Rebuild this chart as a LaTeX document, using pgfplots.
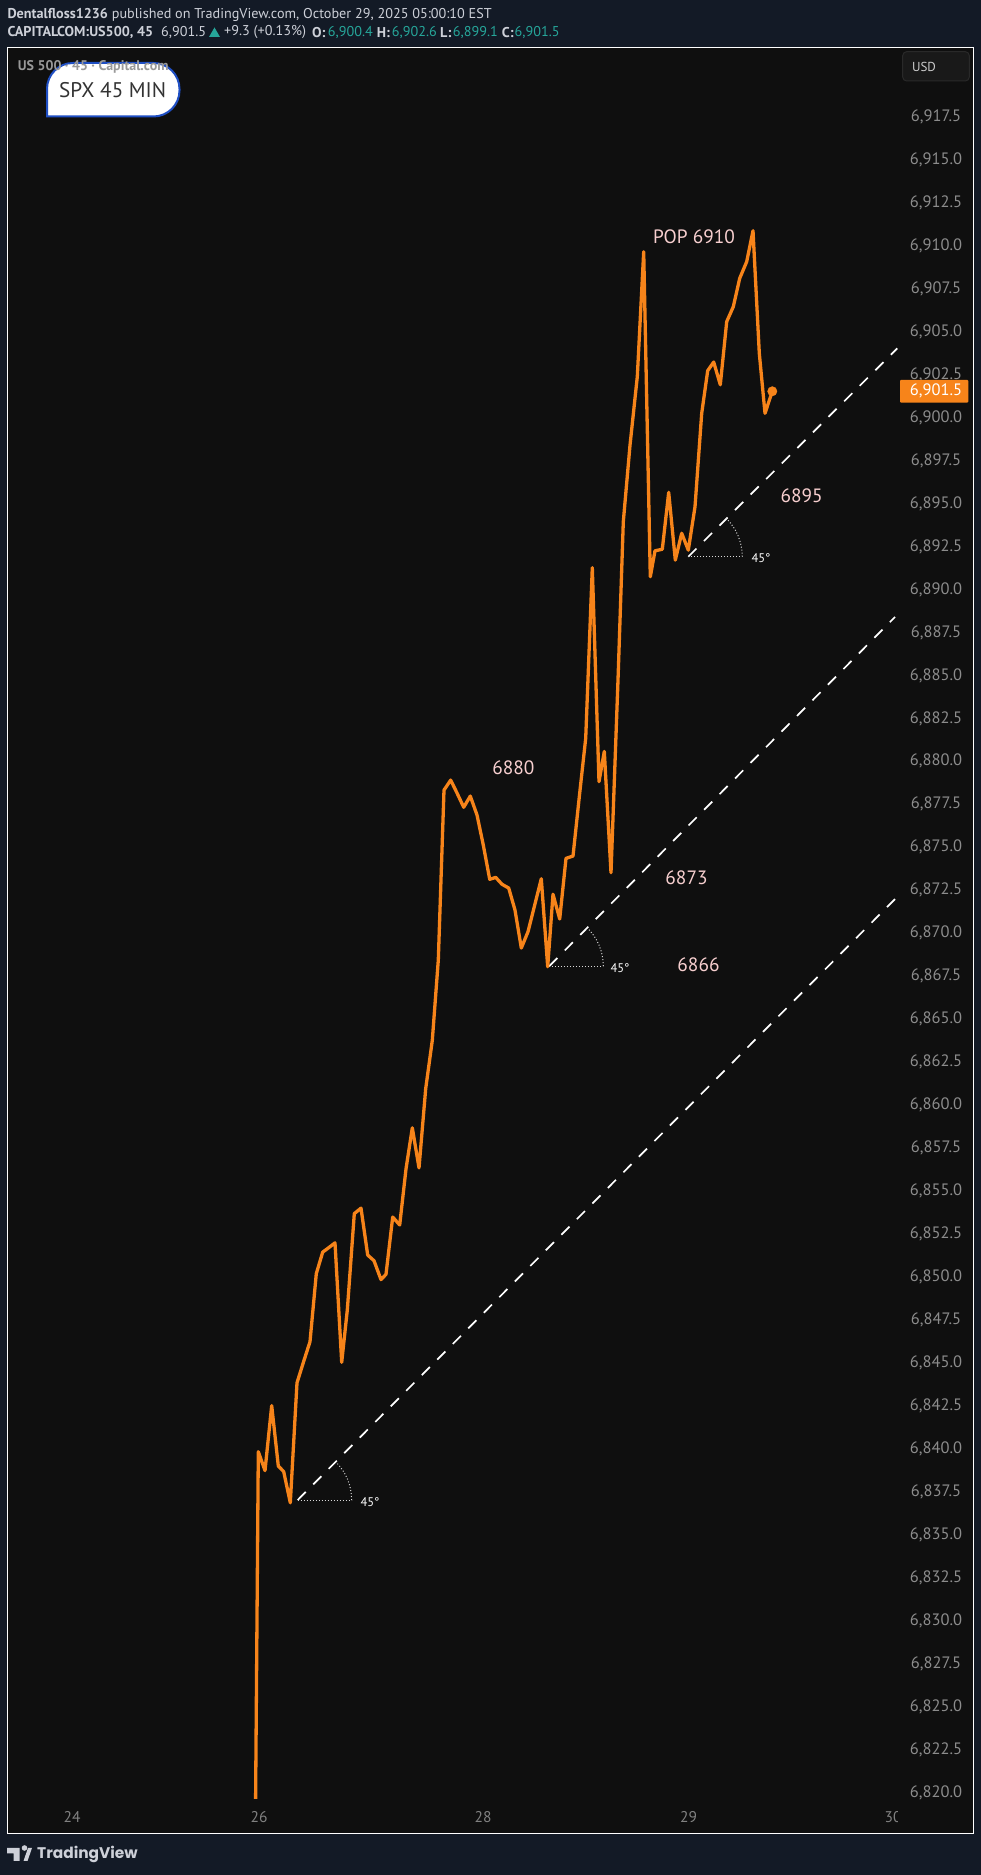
\documentclass[border=0pt]{standalone}
\usepackage{fontspec}
\setmainfont{PT Sans}
\newfontfamily\poppins{Poppins}
\usepackage{pgfplots}
\usepackage{pgfplotstable}
\pgfplotsset{compat=1.18}
\definecolor{pagebg}{HTML}{131A26}
\definecolor{panel}{HTML}{0F0F0F}
\definecolor{line}{HTML}{F7841A}
\definecolor{pinklab}{HTML}{F7CFCF}
\definecolor{ticktxt}{HTML}{8C8C8C}
\definecolor{headtxt}{HTML}{CDD0D8}
\definecolor{teal}{HTML}{26A69A}
\definecolor{boxblue}{HTML}{1F4FC4}
\pgfplotstableread{
x y
255.6 6819.55
258.3 6839.75
265.0 6838.65
271.7 6842.43
278.3 6838.92
283.7 6838.59
290.3 6836.78
297.0 6843.76
303.5 6844.97
310.0 6846.15
316.3 6850.11
322.7 6851.36
329.0 6851.63
335.0 6851.90
341.7 6844.95
347.3 6847.99
354.3 6853.60
361.0 6853.92
367.7 6851.19
374.0 6850.86
381.0 6849.76
386.0 6850.07
392.7 6853.40
399.7 6852.94
406.0 6856.20
412.3 6858.59
419.0 6856.26
425.7 6860.87
432.3 6863.68
438.3 6868.35
444.0 6878.24
450.7 6878.82
457.0 6878.07
463.7 6877.24
470.3 6877.89
477.0 6876.79
483.3 6875.04
489.7 6873.05
495.7 6873.16
502.0 6872.76
508.7 6872.54
515.0 6871.26
521.3 6869.05
528.0 6870.00
534.7 6871.55
541.3 6873.08
547.7 6867.96
553.0 6872.18
559.7 6870.74
566.0 6874.27
573.0 6874.40
579.3 6877.85
585.7 6881.25
592.3 6891.18
599.0 6878.73
604.3 6880.49
611.0 6873.43
618.0 6884.64
623.3 6893.85
630.0 6898.30
637.3 6902.29
643.7 6909.56
650.3 6890.65
655.0 6892.16
662.3 6892.25
668.7 6895.56
675.3 6891.62
681.7 6893.18
688.3 6892.20
695.0 6894.72
701.7 6900.16
707.7 6902.64
713.7 6903.14
720.3 6901.82
726.7 6905.49
733.3 6906.36
739.7 6908.01
746.7 6908.98
753.0 6910.78
759.3 6903.65
765.0 6900.16
772.3 6901.44
}\series
\pgfplotstableread{
dx dy
54 0
53.5 0.41
52.2 0.81
49.9 1.20
46.8 1.57
42.8 1.91
38.2 2.22
}\arcrim
\begin{document}
\begin{tikzpicture}[x=1pt,y=1pt]
\fill[pagebg] (0,0) rectangle (981,1875);
\begin{axis}[
  at={(7.5pt,41pt)}, anchor=south west,
  scale only axis, width=965.5pt, height=1786.5pt,
  xmin=7.5, xmax=973, ymin=6817.51, ymax=6921.44,
  axis background/.style={fill=panel},
  axis line style={white,line width=1pt},
  major tick length=0pt,
  xtick={72,259,483,688.5,893},
  xticklabels={24,26,28,29,30},
  ytick={6820,6822.5,...,6917.5},
  yticklabel pos=right,
  /pgf/number format/.cd, fixed, fixed zerofill, precision=1, 1000 sep={,}, assume math mode=true,
  /pgfplots/.cd,
  y tick label style={anchor=center,xshift=-37pt,yshift=-1.5pt,font=\fontsize{16.5}{17}\selectfont,text=ticktxt},
  x tick label style={anchor=center,yshift=17pt,font=\fontsize{15.5}{16}\selectfont,text=ticktxt!110!white},
]
% dashed support lines
\addplot[white,line width=1.7pt,dash pattern=on 11.5pt off 10.5pt] coordinates {(297.7,6836.94) (895,6871.90)};
\addplot[white,line width=1.7pt,dash pattern=on 11.5pt off 10.5pt] coordinates {(549.3,6868.0) (895,6888.31)};
\addplot[white,line width=1.7pt,dash pattern=on 11.5pt off 10.5pt] coordinates {(688.3,6891.82) (897.3,6903.94)};
% 45 degree markers
\addplot[white!85!black,line width=1pt,dotted] table[x expr=\thisrow{dx}+297.7,y expr=\thisrow{dy}+6836.94] {\arcrim};
\addplot[white!85!black,line width=1pt,dotted] coordinates {(297.7,6836.94) (351.7,6836.94)};
\addplot[white!85!black,line width=1pt,dotted] table[x expr=\thisrow{dx}+549.3,y expr=\thisrow{dy}+6868.0] {\arcrim};
\addplot[white!85!black,line width=1pt,dotted] coordinates {(549.3,6868.0) (603.3,6868.0)};
\addplot[white!85!black,line width=1pt,dotted] table[x expr=\thisrow{dx}+688.3,y expr=\thisrow{dy}+6891.82] {\arcrim};
\addplot[white!85!black,line width=1pt,dotted] coordinates {(688.3,6891.82) (742.3,6891.82)};
% price line
\addplot[line,line width=3.3pt,line join=round] table[x=x,y=y] {\series};
\addplot[line,only marks,mark=*,mark size=4.7pt,mark options={fill=line,draw=line}] coordinates {(772.3,6901.44)};
\end{axis}
\begin{scope}[yshift=1875pt,y=-1pt,x=1pt]
% crop of the last date label
\fill[panel] (897.5,1805) rectangle (908,1829);
% header
\node[anchor=west,inner sep=0,text=headtxt,font=\fontsize{14.2}{15}\selectfont] at (7.3,14.7) {\textbf{Dentalfloss1236} published on TradingView.com, October 29, 2025 05:00:10 EST};
\begin{scope}[every node/.style={anchor=west,inner sep=0,font=\fontsize{14.2}{15}\selectfont}]
\node[text=headtxt] at (7.3,32.3) {\textbf{CAPITALCOM:US500, 45}};
\node[text=headtxt] at (161,32.3) {6,901.5};
\fill[teal] (209,37) -- (220,37) -- (214.5,27.5) -- cycle;
\node[text=headtxt] at (224,32.3) {+9.3 (+0.13\%)};
\node[text=headtxt] at (312,32.3) {\textbf{O:}};
\node[text=teal] at (327.7,32.3) {6,900.4};
\node[text=headtxt] at (376.7,32.3) {\textbf{H:}};
\node[text=teal] at (391.7,32.3) {6,902.6};
\node[text=headtxt] at (440,32.3) {\textbf{L:}};
\node[text=teal] at (452.7,32.3) {6,899.1};
\node[text=headtxt] at (501.7,32.3) {\textbf{C:}};
\node[text=teal] at (514.5,32.3) {6,901.5};
\end{scope}
% title box
\draw[fill=white,draw=boxblue,line width=2pt] (47,116.5) [rounded corners=26pt] -- (47,63) -- (179.5,63) -- (179.5,116.5) [sharp corners] -- cycle;
\node[text=black!80,font=\fontsize{21.2}{24}\selectfont,inner sep=0] at (112.7,90) {SPX 45 MIN};
\node[anchor=west,inner sep=0,text=black!40!white,font=\fontsize{14}{15}\selectfont] at (17.7,66.7) {\textbf{US 500 · 45 · Capital.com}};
% USD box
\draw[draw=white!16!black,line width=1pt,rounded corners=4pt,fill=panel!96!white] (902.7,51.7) rectangle (969.3,81);
\node[text=white!80!black,font=\fontsize{13}{14}\selectfont,inner sep=0] at (924,66.7) {USD};
% last price tag
\fill[line,rounded corners=1pt] (900,380) rectangle (968.3,402.7);
\node[text=white,font=\fontsize{16.5}{17}\selectfont,inner sep=0] at (936,391.3) {6,901.5};
% annotations
\begin{scope}[every node/.style={text=pinklab,font=\fontsize{19.3}{21}\selectfont,inner sep=0}]
\node at (694,237) {POP 6910};
\node at (513.3,767.3) {6880};
\node at (801.7,495.7) {6895};
\node at (686.5,878) {6873};
\node at (698.5,965) {6866};
\end{scope}
\begin{scope}[every node/.style={text=white,font=\fontsize{12.5}{13}\selectfont,inner sep=0}]
\node at (370,1501.7) {45°};
\node at (620,967.7) {45°};
\node at (761,557.7) {45°};
\end{scope}
% TradingView logo
\fill[headtxt] (7,1848) -- (19.5,1848) -- (19.5,1861) -- (13.5,1861) -- (13.5,1853.5) -- (7,1853.5) -- cycle;
\fill[headtxt] (24.5,1848) circle[radius=2.8];
\fill[headtxt] (23.5,1861) -- (28,1848) -- (32,1848) -- (27.5,1861) -- cycle;
\node[anchor=west,inner sep=0,text=headtxt,font=\poppins\fontsize{15.4}{18}\selectfont\bfseries] at (37,1854.5) {TradingView};
\end{scope}
\end{tikzpicture}
\end{document}
